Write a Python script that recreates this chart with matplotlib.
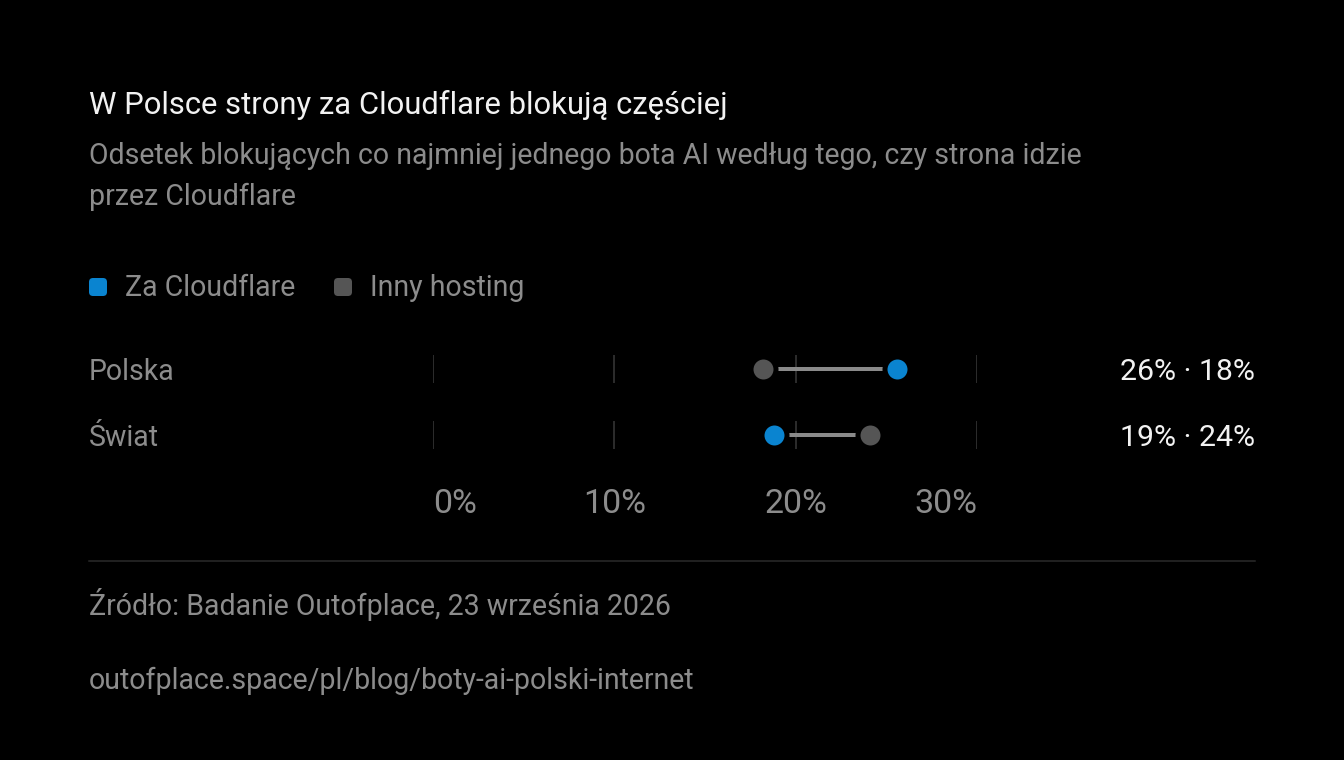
import matplotlib
matplotlib.use('Agg')
import matplotlib.pyplot as plt
from matplotlib.lines import Line2D
from matplotlib.patches import FancyBboxPatch
from matplotlib.transforms import IdentityTransform, blended_transform_factory

# Data
rows = ['Polska', 'Świat']
cloudflare = [25.6, 18.8]
other_hosting = [18.2, 24.1]
series_names = ['Za Cloudflare', 'Inny hosting']
ticks = [0, 10, 20, 30]
tick_labels = ['0%', '10%', '20%', '30%']

title = 'W Polsce strony za Cloudflare blokują częściej'
subtitle = ['Odsetek blokujących co najmniej jednego bota AI według tego, czy strona idzie',
            'przez Cloudflare']
source = 'Źródło: Badanie Outofplace, 23 września 2026'
url = 'outofplace.space/pl/blog/boty-ai-polski-internet'

# Style
W, H = 1344, 760
BG = '#000000'
BLUE = '#0a84d0'
DOT_GRAY = '#555555'
LINE_GRAY = '#8a8a8a'
TEXT_GRAY = '#8c8c8c'
WHITE = '#f2f2f2'
GRID = '#2b2b2b'

plt.rcParams['font.family'] = ['Roboto', 'DejaVu Sans']


def fx(px):
    return px / W


def fy(py):
    return 1 - py / H


def pt(px):
    return px * 0.72


fig = plt.figure(figsize=(W / 100, H / 100), dpi=100, facecolor=BG)
renderer = fig.canvas.get_renderer()


def fit(t, width_px):
    # scale font size so the text spans the width measured on the original
    w = t.get_window_extent(renderer).width
    t.set_fontsize(t.get_fontsize() * width_px / w)
    return t.get_fontsize()


# Header
t_title = fig.text(fx(89), fy(114), title, color=WHITE, fontsize=20, va='baseline')
fit(t_title, 637)
t_sub = fig.text(fx(89), fy(164), subtitle[0], color=TEXT_GRAY, fontsize=17, va='baseline')
body = fit(t_sub, 997)
fig.text(fx(89), fy(205), subtitle[1], color=TEXT_GRAY, fontsize=body, va='baseline')

# Legend
for x0, name, col in [(89, series_names[0], BLUE), (334, series_names[1], DOT_GRAY)]:
    fig.add_artist(FancyBboxPatch((x0, H - 296), 18, 18,
                                  boxstyle='round,pad=0,rounding_size=4',
                                  transform=IdentityTransform(), fc=col, ec='none'))
    fig.text(fx(x0 + 36), fy(296), name, color=TEXT_GRAY, fontsize=body, va='baseline')

# Chart area
ax = fig.add_axes([fx(433), fy(468), (977 - 433) / W, (468 - 336) / H])
ax.set_facecolor(BG)
ax.set_xlim(0, 30)
ax.set_ylim(1.5, -0.5)
for s in ax.spines.values():
    s.set_visible(False)
ax.set_yticks([])
ax.set_xticks(ticks)
ax.set_xticklabels(tick_labels)

# numbers are set a bit larger than body text
t_probe = fig.text(0, 0, tick_labels[-1], fontsize=body)
tick_size = fit(t_probe, 63)
t_probe.remove()
ax.tick_params(axis='x', length=0, pad=pt(20), colors=TEXT_GRAY, labelsize=tick_size)
lbls = ax.get_xticklabels()
lbls[0].set_ha('left')
lbls[-1].set_ha('right')

row_tr = blended_transform_factory(fig.transFigure, ax.transData)
val_size = None
for i, name in enumerate(rows):
    ax.vlines(ticks, i - 0.21, i + 0.21, color=GRID, lw=pt(2), zorder=1)
    ax.plot([other_hosting[i], cloudflare[i]], [i, i], color=LINE_GRAY,
            lw=pt(4), solid_capstyle='butt', zorder=2)
    # black edge leaves a small gap between dot and connector
    ax.plot(other_hosting[i], i, 'o', ms=pt(25), mfc=DOT_GRAY, mec=BG, mew=pt(5), zorder=3)
    ax.plot(cloudflare[i], i, 'o', ms=pt(25), mfc=BLUE, mec=BG, mew=pt(5), zorder=3)
    ax.text(fx(89), i, name, transform=row_tr, color=TEXT_GRAY, fontsize=body,
            va='center_baseline', ha='left')
    tv = ax.text(fx(1255), i, f'{round(cloudflare[i])}% · {round(other_hosting[i])}%',
                 transform=row_tr, color=WHITE, fontsize=body,
                 va='center_baseline', ha='right')
    if val_size is None:
        val_size = fit(tv, 135)
    else:
        tv.set_fontsize(val_size)

# Footer
fig.add_artist(Line2D([fx(89), fx(1255)], [fy(561), fy(561)], color=GRID, lw=pt(1.5)))
fig.text(fx(89), fy(615), source, color=TEXT_GRAY, fontsize=body, va='baseline')
fig.text(fx(89), fy(689), url, color=TEXT_GRAY, fontsize=body, va='baseline')

fig.savefig('out.png', dpi=100, facecolor=BG)
